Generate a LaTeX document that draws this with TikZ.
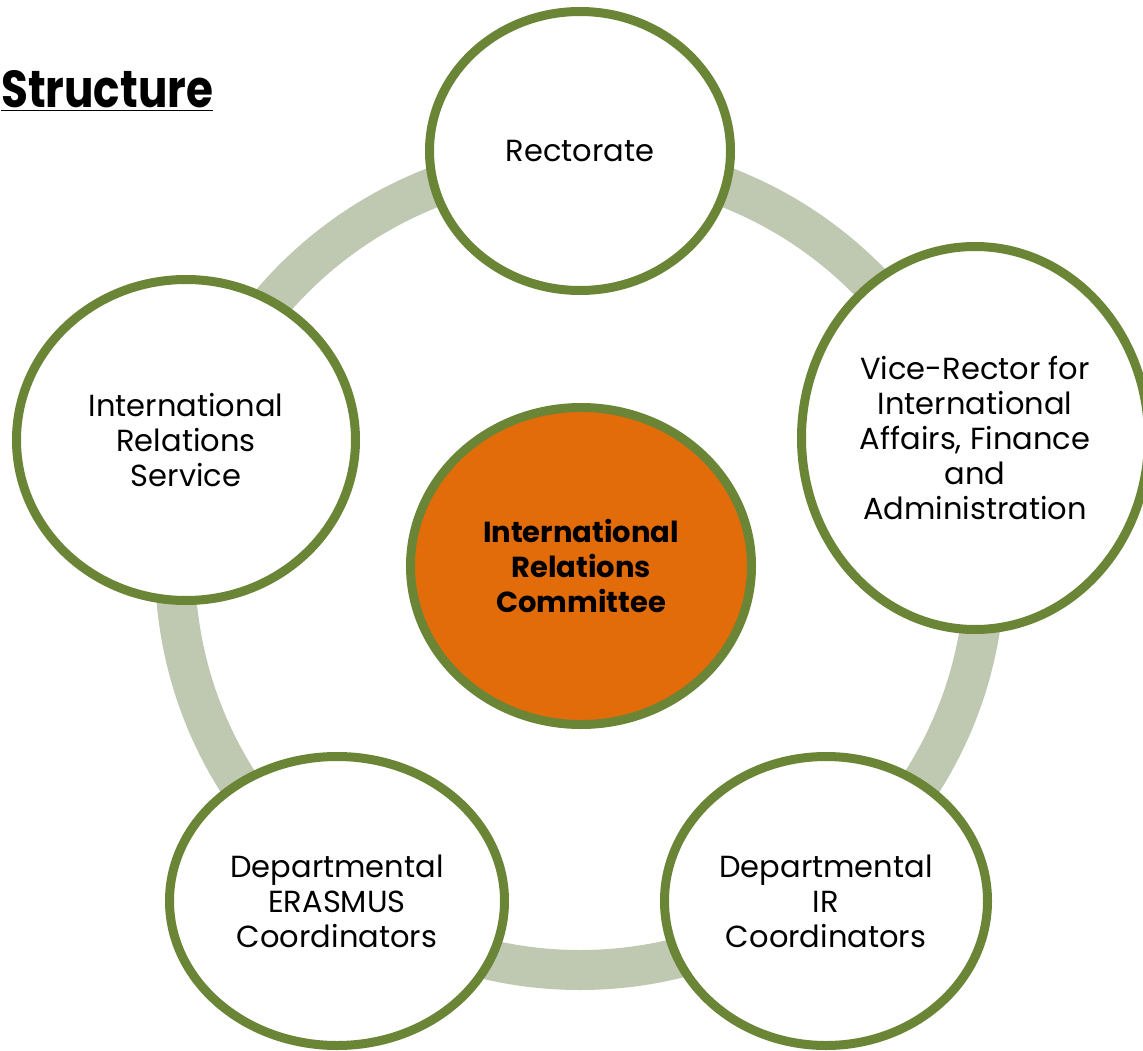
\documentclass[tikz,border=0pt]{standalone}
\usepackage{fontspec}
\setmainfont{Poppins}
\usetikzlibrary{shapes.geometric}
\definecolor{ringc}{HTML}{BFC8B1}
\definecolor{edgec}{HTML}{6B8536}
\definecolor{orangec}{HTML}{E36C0A}
\tikzset{
  unit/.style={ellipse, draw=edgec, line width=9pt, fill=white, align=center, inner sep=0pt,
    font=\fontsize{30.5}{35}\selectfont},
  ringline/.style={draw=ringc, line width=40pt},
}
\begin{document}
\begin{tikzpicture}[x=1pt,y=-1pt]
\useasboundingbox (0,0) rectangle (1143,1051);
\coordinate (ctr) at (580,565);
\draw[ringline] (ctr) circle[radius=405];
\node[anchor=base west, inner sep=0pt, font=\fontsize{52}{60}\selectfont\bfseries] (title) at (1,108) {\scalebox{0.84}[1]{\underline{Structure}}};
\node[unit, minimum width=301, minimum height=279] (rect) at (580,151) {Rectorate};
\node[unit, minimum width=347, minimum height=383] (vice) at (975,438) {Vice-Rector for\\International\\Affairs, Finance\\and\\Administration};
\node[unit, minimum width=339, minimum height=321] (irs) at (186,440) {International\\Relations\\Service};
\node[unit, minimum width=341, minimum height=317, fill=orangec, font=\fontsize{29}{35}\selectfont\bfseries] (irc) at (581,566) {International\\Relations\\Committee};
\node[unit, minimum width=335, minimum height=289] (eras) at (337,901) {Departmental\\ERASMUS\\Coordinators};
\node[unit, minimum width=323, minimum height=289] (irco) at (826,901) {Departmental\\IR\\Coordinators};
\end{tikzpicture}
\end{document}
